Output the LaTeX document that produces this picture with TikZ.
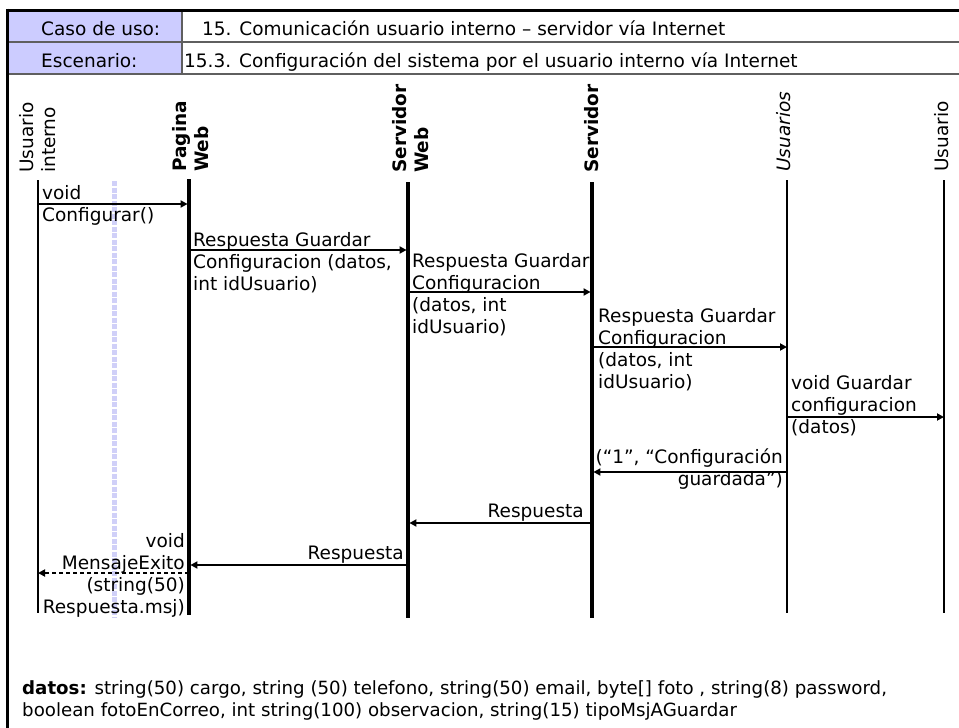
\documentclass[tikz,border=0pt]{standalone}
\usepackage{fontspec}
\setmainfont{DejaVu Sans}
\usetikzlibrary{arrows.meta}
\definecolor{headfill}{RGB}{204,204,255}
\definecolor{rulegray}{RGB}{95,95,95}
\definecolor{focusline}{RGB}{208,208,248}
\tikzset{
  txt/.style={inner sep=0pt, font=\fontsize{18.5}{22}\selectfont},
  lbl/.style={txt, align=left, anchor=north west},
  lblr/.style={txt, align=right, anchor=north east},
  actor/.style={txt, rotate=90, anchor=north west, align=left},
  lifethick/.style={line width=3.2pt},
  lifethin/.style={line width=1.3pt},
  msg/.style={line width=2pt, -{Triangle[length=7pt,width=7pt]}},
  msgthick/.style={msg, shorten >=1.4pt},
  reply/.style={msg, dash pattern=on 4pt off 3pt},
}
\begin{document}
\begin{tikzpicture}[x=1pt,y=-1pt]
\useasboundingbox (0,0) rectangle (959,728);

% ---- header band: use case and scenario ----
\fill[headfill] (7,10) rectangle (182,74);
\draw[rulegray, line width=1.3pt] (7,42) -- (959,42);
\draw[rulegray, line width=1.3pt] (7,74) -- (959,74);
\draw[rulegray, line width=1.3pt] (182,10) -- (182,74);
\draw[line width=3pt] (7,10) -- (959,10);
\draw[line width=3pt] (7,8.5) -- (7,728);

\node[txt, anchor=base west] (caso) at (41,35) {Caso de uso:};
\node[txt, anchor=base west] (esc) at (41,67) {Escenario:};
\node[txt, anchor=base west] (casoval) at (202,35) {15. Comunicación usuario interno – servidor vía Internet};
\node[txt, anchor=base west] (escval) at (184,67) {15.3. Configuración del sistema por el usuario interno vía Internet};

% ---- participants ----
\node[actor] (a-ui) at (18.1,173) {\strut Usuario\\\strut interno};
\node[actor, font=\fontsize{18.5}{22}\selectfont\bfseries] (a-pw) at (170.6,172) {\strut Pagina\\\strut Web};
\node[actor, font=\fontsize{18.5}{22}\selectfont\bfseries] (a-sw) at (391,173) {\strut Servidor\\\strut Web};
\node[actor, font=\fontsize{18.5}{22}\selectfont\bfseries] (a-sv) at (582.6,173) {\strut Servidor};
\node[actor, font=\fontsize{18.5}{22}\selectfont\itshape] (a-us) at (774.6,172) {\strut Usuarios};
\node[actor] (a-uu) at (932.6,172) {\strut Usuario};

% ---- lifelines ----
\coordinate (ui-t) at (38,180);  \coordinate (ui-b) at (38,613);
\coordinate (pw-t) at (189,179); \coordinate (pw-b) at (189,615);
\coordinate (sw-t) at (408,182); \coordinate (sw-b) at (408,618);
\coordinate (sv-t) at (592,182); \coordinate (sv-b) at (592,618);
\coordinate (us-t) at (787,180); \coordinate (us-b) at (787,613);
\coordinate (uu-t) at (944,180); \coordinate (uu-b) at (944,613);
\coordinate (fc-t) at (114,181); \coordinate (fc-b) at (114,617);

\draw[focusline, line width=5pt, dash pattern=on 5pt off 1.5pt] (fc-t) -- (fc-b);
\draw[lifethin] (ui-t) -- (ui-b);
\draw[lifethick] (pw-t) -- (pw-b);
\draw[lifethick] (sw-t) -- (sw-b);
\draw[lifethick] (sv-t) -- (sv-b);
\draw[lifethin] (us-t) -- (us-b);
\draw[lifethin] (uu-t) -- (uu-b);

% ---- message rows ----
\coordinate (m1) at (0,204);
\coordinate (m2) at (0,250);
\coordinate (m3) at (0,292);
\coordinate (m4) at (0,347);
\coordinate (m5) at (0,417);
\coordinate (m6) at (0,472);
\coordinate (m7) at (0,523);
\coordinate (m8) at (0,565);
\coordinate (m9) at (0,573);

\draw[msgthick] (ui-t |- m1) -- (pw-t |- m1);
\draw[msgthick] (pw-t |- m2) -- (sw-t |- m2);
\draw[msgthick] (sw-t |- m3) -- (sv-t |- m3);
\draw[msg] (sv-t |- m4) -- (us-t |- m4);
\draw[msg] (us-t |- m5) -- (uu-t |- m5);
\draw[msgthick] (us-t |- m6) -- (sv-t |- m6);
\draw[msgthick] (sv-t |- m7) -- (sw-t |- m7);
\draw[msgthick] (sw-t |- m8) -- (pw-t |- m8);
\draw[reply] (pw-t |- m9) -- (ui-t |- m9);

% ---- message labels ----
\node[lbl] (l1) at (42,183.6) {\strut void\\\strut Configurar()};
\node[lbl] (l2) at (193,230.6) {\strut Respuesta Guardar\\\strut Configuracion (datos,\\\strut int idUsuario)};
\node[lbl] (l3) at (412,251.6) {\strut Respuesta Guardar\\\strut Configuracion\\\strut (datos, int\\\strut idUsuario)};
\node[lbl] (l4) at (598,306.6) {\strut Respuesta Guardar\\\strut Configuracion\\\strut (datos, int\\\strut idUsuario)};
\node[lbl] (l5) at (791,373.6) {\strut void Guardar\\\strut configuracion\\\strut (datos)};
\node[lblr] (l6) at (783,447.6) {\strut (“1”, “Configuración\\\strut guardada”)};
\node[lblr] (l7) at (584,501.6) {\strut Respuesta};
\node[lblr] (l8) at (404,543.6) {\strut Respuesta};
\node[lblr] (l9) at (185,531.6) {\strut void\\\strut MensajeExito\\\strut (string(50)\\\strut Respuesta.msj)};

% ---- data note ----
\node[txt, anchor=north west, align=left, font=\fontsize{18.2}{22}\selectfont] (datos) at (22,678.6)
  {\strut\textbf{datos:} string(50) cargo, string (50) telefono, string(50) email, byte[] foto , string(8) password,\\
   \strut boolean fotoEnCorreo, int string(100) observacion, string(15) tipoMsjAGuardar};
\end{tikzpicture}
\end{document}
